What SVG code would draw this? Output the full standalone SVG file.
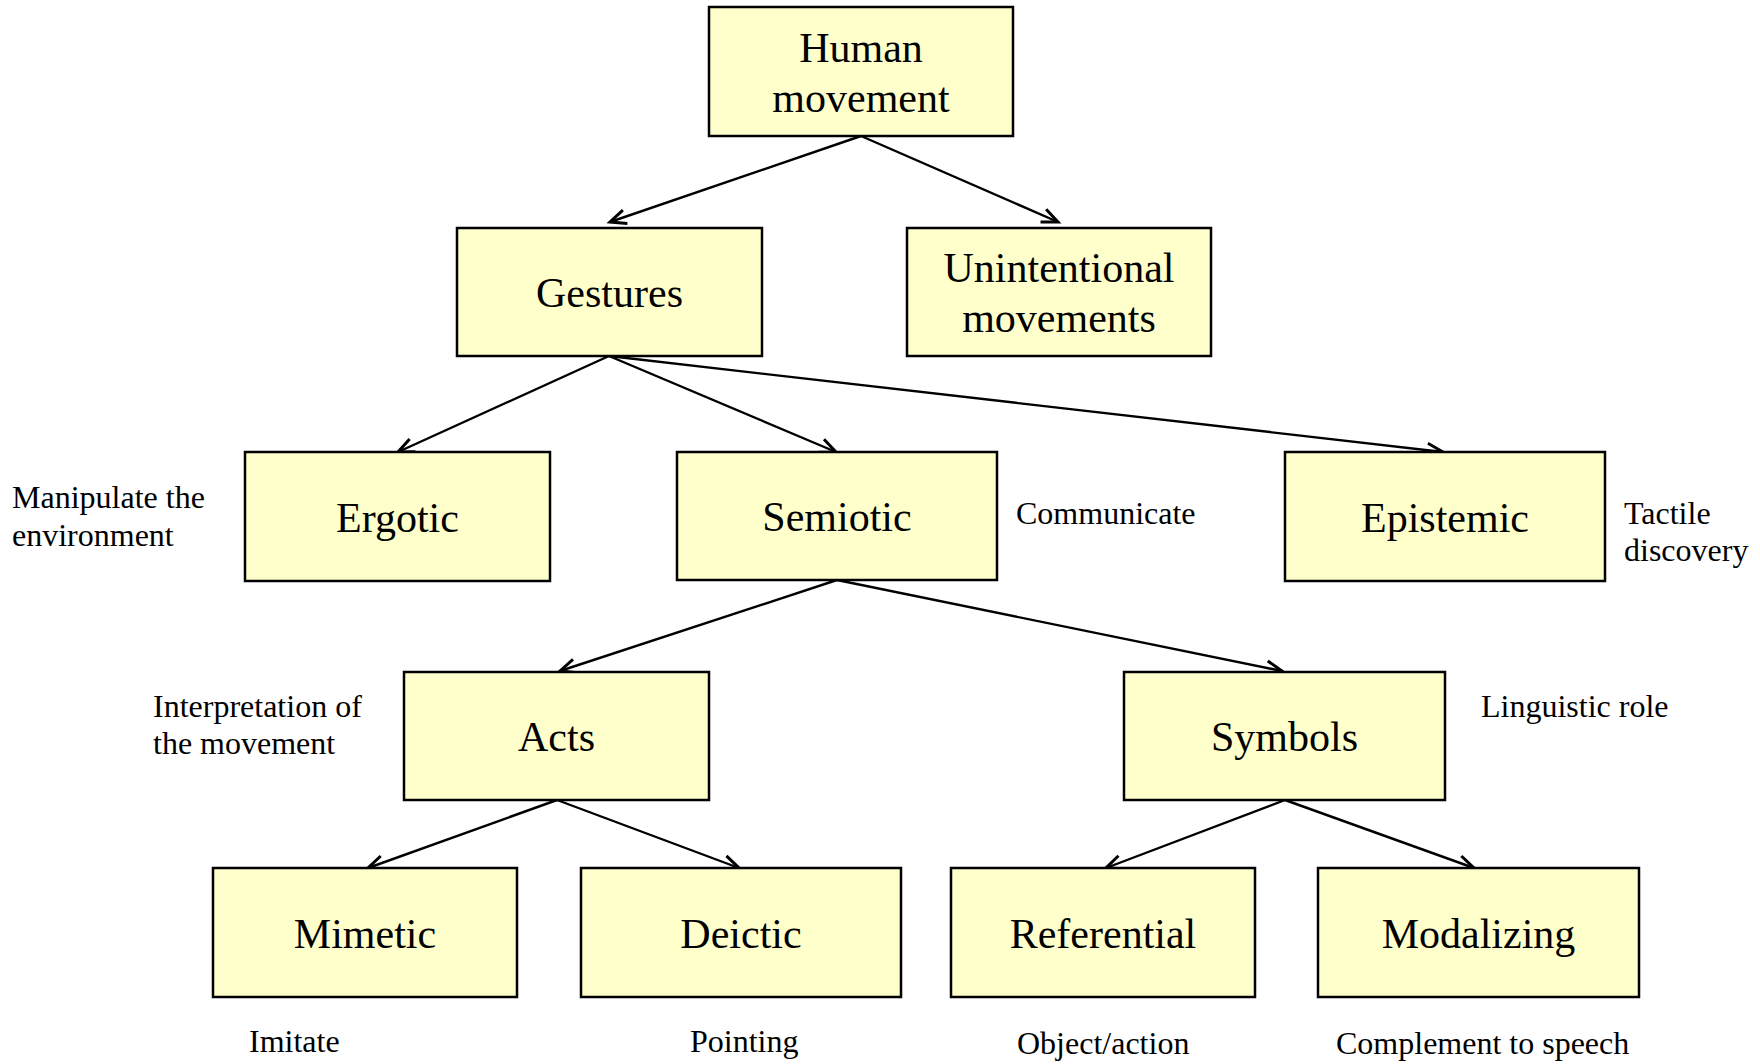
<svg xmlns="http://www.w3.org/2000/svg" width="1760" height="1064" viewBox="0 0 1760 1064">
  <style>
    .box { fill: #ffffcc; stroke: #000; stroke-width: 2.5; }
    .title { font-family: "Liberation Serif", "Times New Roman", serif; font-size: 42px; fill: #000; text-anchor: middle; }
    .note { font-family: "Liberation Serif", "Times New Roman", serif; font-size: 32px; fill: #000; }
    .edge { stroke: #000; stroke-width: 2.4; fill: none; marker-end: url(#arrow); }
  </style>
  <defs>
    <marker id="arrow" markerUnits="userSpaceOnUse" viewBox="-20 -10 24 20" markerWidth="24" markerHeight="20" refX="0" refY="0" orient="auto">
      <path d="M-16,-7 L0,0 L-16,7" fill="none" stroke="#000" stroke-width="3" stroke-linejoin="miter"/>
    </marker>
  </defs>
  <rect width="1760" height="1064" fill="#fff"/>

  <g id="connectors">
    <line class="edge" x1="861" y1="136" x2="610" y2="222"/>
    <line class="edge" x1="861" y1="136" x2="1058" y2="222"/>
    <line class="edge" x1="609" y1="356" x2="398" y2="452"/>
    <line class="edge" x1="609" y1="356" x2="836" y2="452"/>
    <line class="edge" x1="609" y1="356" x2="1443" y2="452"/>
    <line class="edge" x1="837" y1="580" x2="560" y2="671"/>
    <line class="edge" x1="837" y1="580" x2="1282" y2="671"/>
    <line class="edge" x1="557" y1="800" x2="368" y2="868"/>
    <line class="edge" x1="557" y1="800" x2="739" y2="868"/>
    <line class="edge" x1="1285" y1="800" x2="1106" y2="868"/>
    <line class="edge" x1="1285" y1="800" x2="1474" y2="868"/>
  </g>

  <g id="human-movement">
    <rect class="box" x="709" y="7" width="304" height="129"/>
    <text class="title" x="861" y="62">Human</text>
    <text class="title" x="861" y="112">movement</text>
  </g>
  <g id="gestures">
    <rect class="box" x="457" y="228" width="305" height="128"/>
    <text class="title" x="609.5" y="307">Gestures</text>
  </g>
  <g id="unintentional">
    <rect class="box" x="907" y="228" width="304" height="128"/>
    <text class="title" x="1059" y="282">Unintentional</text>
    <text class="title" x="1059" y="332">movements</text>
  </g>
  <g id="ergotic">
    <rect class="box" x="245" y="452" width="305" height="129"/>
    <text class="title" x="397.5" y="532">Ergotic</text>
    <text class="note" x="12" y="508">Manipulate the</text>
    <text class="note" x="12" y="546">environment</text>
  </g>
  <g id="semiotic">
    <rect class="box" x="677" y="452" width="320" height="128"/>
    <text class="title" x="837" y="531">Semiotic</text>
    <text class="note" x="1016" y="524">Communicate</text>
  </g>
  <g id="epistemic">
    <rect class="box" x="1285" y="452" width="320" height="129"/>
    <text class="title" x="1445" y="532">Epistemic</text>
    <text class="note" x="1624" y="524">Tactile</text>
    <text class="note" x="1624" y="561">discovery</text>
  </g>
  <g id="acts">
    <rect class="box" x="404" y="672" width="305" height="128"/>
    <text class="title" x="556.5" y="751">Acts</text>
    <text class="note" x="153" y="717">Interpretation of</text>
    <text class="note" x="153" y="754">the movement</text>
  </g>
  <g id="symbols">
    <rect class="box" x="1124" y="672" width="321" height="128"/>
    <text class="title" x="1284.5" y="751">Symbols</text>
    <text class="note" x="1481" y="717">Linguistic role</text>
  </g>
  <g id="mimetic">
    <rect class="box" x="213" y="868" width="304" height="129"/>
    <text class="title" x="365" y="948">Mimetic</text>
    <text class="note" x="249" y="1052">Imitate</text>
  </g>
  <g id="deictic">
    <rect class="box" x="581" y="868" width="320" height="129"/>
    <text class="title" x="741" y="948">Deictic</text>
    <text class="note" x="690" y="1052">Pointing</text>
  </g>
  <g id="referential">
    <rect class="box" x="951" y="868" width="304" height="129"/>
    <text class="title" x="1103" y="948">Referential</text>
    <text class="note" x="1017" y="1054">Object/action</text>
  </g>
  <g id="modalizing">
    <rect class="box" x="1318" y="868" width="321" height="129"/>
    <text class="title" x="1478.5" y="948">Modalizing</text>
    <text class="note" x="1336" y="1054">Complement to speech</text>
  </g>
</svg>
